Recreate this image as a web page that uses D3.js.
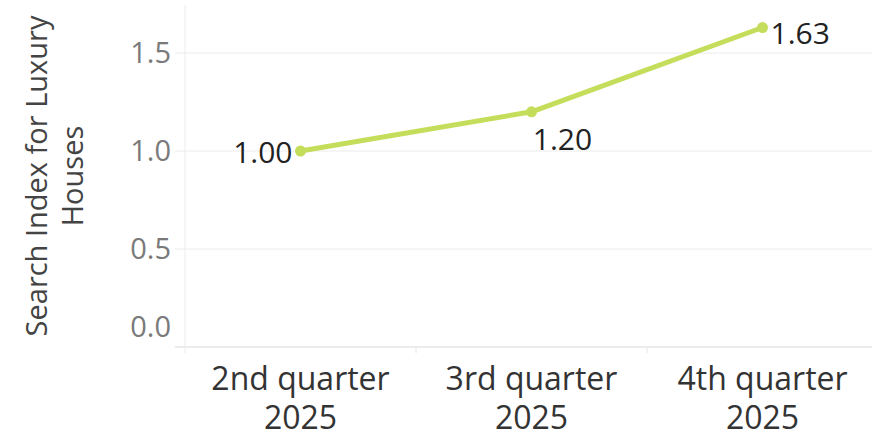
<!DOCTYPE html>
<html>
<head>
<meta charset="utf-8">
<script src="https://cdn.jsdelivr.net/npm/d3@7/dist/d3.min.js"></script>
<style>
  html, body { margin: 0; padding: 0; background: #fff; }
  svg { display: block; font-family: "Open Sans", "Noto Sans", sans-serif; }
</style>
</head>
<body>
<svg id="chart" width="872" height="438"></svg>
<script>
// Quarterly search index for luxury houses
const quarters = ["2nd quarter 2025", "3rd quarter 2025", "4th quarter 2025"];
const quarterLines = [["2nd quarter", "2025"], ["3rd quarter", "2025"], ["4th quarter", "2025"]];
const searchIndex = [1.00, 1.20, 1.63];
const yTicks = [0.0, 0.5, 1.0, 1.5];
const yTitle = ["Search Index for Luxury", "Houses"];

const svg = d3.select("#chart");
const plotLeft = 185, plotRight = 878, plotTop = 5, plotBottom = 347;

const x = d3.scaleBand().domain(quarters).range([plotLeft, plotRight]).padding(0);
const y = d3.scaleLinear().domain([0, 1.745]).range([plotBottom, plotBottom - 1.745 * 196]);

// gridlines
svg.append("g").selectAll("line").data(yTicks.filter(d => d > 0)).join("line")
  .attr("x1", plotLeft - 10).attr("x2", 872)
  .attr("y1", d => y(d)).attr("y2", d => y(d))
  .attr("stroke", "#ececec").attr("stroke-width", 1);

// baseline and left axis rule
svg.append("line").attr("x1", plotLeft - 10).attr("x2", 872)
  .attr("y1", plotBottom).attr("y2", plotBottom)
  .attr("stroke", "#e6e6e6").attr("stroke-width", 1.5);
svg.append("line").attr("x1", plotLeft).attr("x2", plotLeft)
  .attr("y1", plotTop).attr("y2", plotBottom + 6)
  .attr("stroke", "#ececec").attr("stroke-width", 1);

// band dividers below the baseline
svg.append("g").selectAll("line").data(quarters.slice(1)).join("line")
  .attr("x1", d => x(d)).attr("x2", d => x(d))
  .attr("y1", plotBottom).attr("y2", plotBottom + 6)
  .attr("stroke", "#e6e6e6").attr("stroke-width", 1);

// y tick labels
svg.append("g").selectAll("text").data(yTicks).join("text")
  .attr("x", 171)
  .attr("y", d => d === 0 ? y(d) - 20 : y(d))
  .attr("dy", "0.35em")
  .attr("text-anchor", "end")
  .attr("fill", "#7a7a7a")
  .attr("font-size", 29)
  .text(d => d.toFixed(1));

// y axis title
const yt = svg.append("text")
  .attr("transform", `translate(0,${(plotTop + plotBottom) / 2}) rotate(-90)`)
  .attr("text-anchor", "middle")
  .attr("fill", "#444")
  .attr("font-size", 29);
yTitle.forEach((t, i) => yt.append("tspan").attr("x", 0).attr("y", 47 + i * 36).text(t));

// x labels, one text element per line
const xg = svg.append("g").attr("fill", "#333").attr("font-size", 32).attr("text-anchor", "middle");
quarters.forEach((q, i) => {
  const mid = x(q) + x.bandwidth() / 2;
  quarterLines[i].forEach((t, j) => {
    xg.append("text").attr("x", mid).attr("y", 390 + j * 39).text(t);
  });
});

// line + points
const pts = quarters.map((q, i) => ({ q, v: searchIndex[i] }));
const cx = d => x(d.q) + x.bandwidth() / 2;
const color = "#c4dd5a";
svg.append("path").datum(pts)
  .attr("fill", "none").attr("stroke", color).attr("stroke-width", 5)
  .attr("stroke-linejoin", "round")
  .attr("d", d3.line().x(cx).y(d => y(d.v)));
svg.append("g").selectAll("circle").data(pts).join("circle")
  .attr("cx", cx).attr("cy", d => y(d.v)).attr("r", 5.5).attr("fill", color);

// value labels
const labelPos = [
  { dx: -8, dy: 1, anchor: "end" },
  { dx: 31, dy: 28, anchor: "middle" },
  { dx: 8, dy: 6, anchor: "start" }
];
svg.append("g").selectAll("text").data(pts).join("text")
  .attr("x", (d, i) => cx(d) + labelPos[i].dx)
  .attr("y", (d, i) => y(d.v) + labelPos[i].dy)
  .attr("dy", "0.35em")
  .attr("text-anchor", (d, i) => labelPos[i].anchor)
  .attr("fill", "#222")
  .attr("font-size", 30)
  .text(d => d.v.toFixed(2));
</script>
</body>
</html>
